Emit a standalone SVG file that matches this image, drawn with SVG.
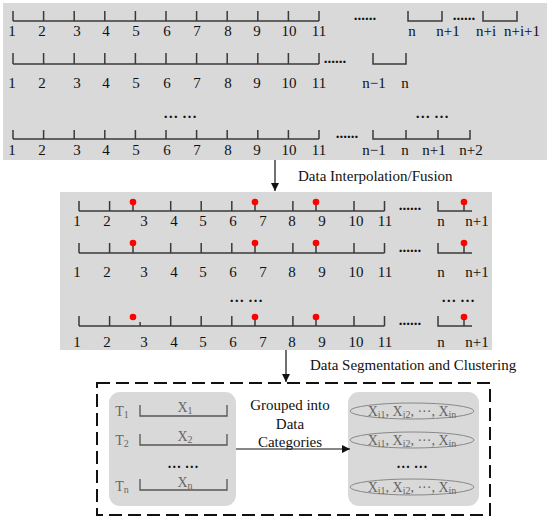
<svg xmlns="http://www.w3.org/2000/svg" width="550" height="518" viewBox="0 0 550 518">
<defs>
<style>
.panel{fill:#d9d9d9}
.ax{fill:none;stroke:#3a3a3a;stroke-width:1.5}
.t{font-family:"Liberation Serif",serif;font-size:15px;fill:#111;text-anchor:middle}
.d{font-weight:bold}
.g{font-family:"Liberation Serif",serif;font-size:14px;fill:#666;text-anchor:middle}
.lab{font-family:"Liberation Serif",serif;font-size:15px;fill:#111}
.dot{fill:#ff0000}
.stem{stroke:#3a3a3a;stroke-width:1.5}
.conn{stroke:#111;stroke-width:1.2;fill:none}
.ell{fill:none;stroke:#888;stroke-width:1}
</style>
<marker id="ah" viewBox="0 0 10 10" refX="10" refY="5" markerWidth="8" markerHeight="8" markerUnits="userSpaceOnUse" orient="auto">
<path d="M0,0 L10,5 L0,10 z" fill="#111"/>
</marker>
</defs>

<g id="raw-data">
<rect class="panel" x="3" y="3" width="544" height="157"/>
<path class="ax" d="M13,21 H319 M13,11 V21 M43.6,11 V21 M74.2,11 V21 M104.8,11 V21 M135.4,11 V21 M166,11 V21 M196.6,11 V21 M227.2,11 V21 M257.8,11 V21 M288.4,11 V21 M319,11 V21 M408,11 V21 H442 V11 M483,11 V21 H517 V11"/>
<g class="t">
<text x="12" y="36">1</text><text x="42" y="36">2</text><text x="77" y="36">3</text><text x="106" y="36">4</text><text x="136" y="36">5</text><text x="167" y="36">6</text><text x="197" y="36">7</text><text x="228" y="36">8</text><text x="257" y="36">9</text><text x="289" y="36">10</text><text x="319" y="36">11</text>
<text class="d" x="365" y="20">......</text>
<text x="412" y="36">n</text><text x="448" y="36">n+1</text>
<text class="d" x="464" y="20">......</text>
<text x="486" y="36">n+i</text><text x="522" y="36">n+i+1</text>
</g>
<path class="ax" d="M13,64 H319 M13,53 V64 M43.6,53 V64 M74.2,53 V64 M104.8,53 V64 M135.4,53 V64 M166,53 V64 M196.6,53 V64 M227.2,53 V64 M257.8,53 V64 M288.4,53 V64 M319,53 V64 M373,53 V64 H406 V53"/>
<g class="t">
<text x="12" y="88">1</text><text x="42" y="88">2</text><text x="77" y="88">3</text><text x="106" y="88">4</text><text x="136" y="88">5</text><text x="167" y="88">6</text><text x="197" y="88">7</text><text x="228" y="88">8</text><text x="257" y="88">9</text><text x="289" y="88">10</text><text x="319" y="88">11</text>
<text class="d" x="335" y="63">......</text>
<text x="374" y="88">n−1</text><text x="405" y="88">n</text>
<text class="d" x="180" y="118">… …</text>
<text class="d" x="432" y="118">… …</text>
</g>
<path class="ax" d="M13,139 H319 M13,130 V139 M43.6,130 V139 M74.2,130 V139 M104.8,130 V139 M135.4,130 V139 M166,130 V139 M196.6,130 V139 M227.2,130 V139 M257.8,130 V139 M288.4,130 V139 M319,130 V139 M373,130 V139 H470 V130 M406,130 V139 M438,130 V139"/>
<g class="t">
<text x="12" y="155">1</text><text x="42" y="155">2</text><text x="77" y="155">3</text><text x="106" y="155">4</text><text x="136" y="155">5</text><text x="167" y="155">6</text><text x="197" y="155">7</text><text x="228" y="155">8</text><text x="257" y="155">9</text><text x="289" y="155">10</text><text x="319" y="155">11</text>
<text class="d" x="347" y="138">......</text>
<text x="374" y="155">n−1</text><text x="405" y="155">n</text><text x="434" y="155">n+1</text><text x="471" y="155">n+2</text>
</g>
</g>

<g id="fused-data">
<rect class="panel" x="60" y="192" width="432" height="158"/>
<path class="ax" d="M79,211 H384.5 M79,201 V211 M109.6,201 V211 M170.7,201 V211 M201.2,201 V211 M231.8,201 V211 M292.9,201 V211 M354,201 V211 M384.5,201 V211 M438,201 V211 H472"/>
<path class="stem" d="M133,202 V211 M255,202 V211 M316,202 V211 M464,202 V211"/>
<g class="dot"><circle cx="133" cy="202" r="3.3"/><circle cx="255" cy="202" r="3.3"/><circle cx="316" cy="202" r="3.3"/><circle cx="464" cy="202" r="3.3"/></g>
<g class="t">
<text x="77" y="226">1</text><text x="107" y="226">2</text><text x="144" y="226">3</text><text x="174" y="226">4</text><text x="203" y="226">5</text><text x="233" y="226">6</text><text x="263" y="226">7</text><text x="292" y="226">8</text><text x="322" y="226">9</text><text x="356" y="226">10</text><text x="385" y="226">11</text>
<text class="d" x="410" y="210">......</text>
<text x="441" y="226">n</text><text x="477" y="226">n+1</text>
</g>
<path class="ax" d="M79,253 H384.5 M79,243 V253 M109.6,243 V253 M170.7,243 V253 M201.2,243 V253 M231.8,243 V253 M292.9,243 V253 M354,243 V253 M384.5,243 V253 M438,243 V253 H472"/>
<path class="stem" d="M133,244 V253 M255,244 V253 M316,244 V253 M464,244 V253"/>
<g class="dot"><circle cx="133" cy="243" r="3.3"/><circle cx="255" cy="243" r="3.3"/><circle cx="316" cy="243" r="3.3"/><circle cx="464" cy="243" r="3.3"/></g>
<g class="t">
<text x="77" y="277">1</text><text x="107" y="277">2</text><text x="144" y="277">3</text><text x="174" y="277">4</text><text x="203" y="277">5</text><text x="233" y="277">6</text><text x="263" y="277">7</text><text x="292" y="277">8</text><text x="322" y="277">9</text><text x="356" y="277">10</text><text x="385" y="277">11</text>
<text class="d" x="410" y="252">......</text>
<text x="441" y="277">n</text><text x="477" y="277">n+1</text>
<text class="d" x="246" y="302">… …</text>
<text class="d" x="458" y="302">… …</text>
</g>
<path class="ax" d="M79,326 H384.5 M79,316 V326 M109.6,316 V326 M140.1,322 V326 M170.7,316 V326 M201.2,316 V326 M231.8,316 V326 M292.9,316 V326 M354,316 V326 M384.5,316 V326 M438,316 V326 H472"/>
<path class="stem" d="M255,317 V326 M316,317 V326 M464,317 V326"/>
<g class="dot"><circle cx="133" cy="317" r="3.3"/><circle cx="255" cy="317" r="3.3"/><circle cx="316" cy="317" r="3.3"/><circle cx="464" cy="317" r="3.3"/></g>
<g class="t">
<text x="77" y="347">1</text><text x="107" y="347">2</text><text x="144" y="347">3</text><text x="174" y="347">4</text><text x="203" y="347">5</text><text x="233" y="347">6</text><text x="263" y="347">7</text><text x="292" y="347">8</text><text x="322" y="347">9</text><text x="356" y="347">10</text><text x="385" y="347">11</text>
<text class="d" x="410" y="325">......</text>
<text x="441" y="347">n</text><text x="477" y="347">n+1</text>
</g>
</g>

<g id="clustering">
<rect x="97" y="383" width="393" height="132" fill="none" stroke="#111" stroke-width="2" stroke-dasharray="13 6"/>
</g>

<g id="segments">
<rect class="panel" x="109" y="392" width="127" height="114" rx="11"/>
<path fill="none" stroke="#555" stroke-width="1.3" d="M140,405 V416 H227 V405 M140,434 V445 H227 V434 M140,479 V490 H227 V479"/>
<g class="g">
<text x="122" y="416">T<tspan font-size="10" dy="2">1</tspan></text>
<text x="185" y="412">X<tspan font-size="10" dy="2">1</tspan></text>
<text x="122" y="445">T<tspan font-size="10" dy="2">2</tspan></text>
<text x="185" y="441">X<tspan font-size="10" dy="2">2</tspan></text>
<text class="d" x="183" y="468" fill="#111">… …</text>
<text x="122" y="491">T<tspan font-size="10" dy="2">n</tspan></text>
<text x="185" y="487">X<tspan font-size="10" dy="2">n</tspan></text>
</g>
</g>

<g id="categories">
<rect class="panel" x="348" y="392" width="131" height="114" rx="11"/>
<ellipse class="ell" cx="412" cy="411" rx="62" ry="8"/>
<ellipse class="ell" cx="412" cy="440" rx="62" ry="8"/>
<ellipse class="ell" cx="412" cy="487" rx="62" ry="8"/>
<g class="g">
<text x="412" y="416">X<tspan font-size="10" dy="2">i1</tspan><tspan dy="-2">, X</tspan><tspan font-size="10" dy="2">i2</tspan><tspan dy="-2">, ···, X</tspan><tspan font-size="10" dy="2">in</tspan></text>
<text x="412" y="445">X<tspan font-size="10" dy="2">i1</tspan><tspan dy="-2">, X</tspan><tspan font-size="10" dy="2">i2</tspan><tspan dy="-2">, ···, X</tspan><tspan font-size="10" dy="2">in</tspan></text>
<text class="d" x="412" y="468" fill="#111">… …</text>
<text x="412" y="492">X<tspan font-size="10" dy="2">i1</tspan><tspan dy="-2">, X</tspan><tspan font-size="10" dy="2">i2</tspan><tspan dy="-2">, ···, X</tspan><tspan font-size="10" dy="2">in</tspan></text>
</g>
</g>

<g id="connectors">
<line class="conn" x1="275" y1="160" x2="275" y2="191" marker-end="url(#ah)"/>
<text class="lab" x="298" y="181">Data Interpolation/Fusion</text>
<line class="conn" x1="286" y1="350" x2="286" y2="382" marker-end="url(#ah)"/>
<text class="lab" x="310" y="370">Data Segmentation and Clustering</text>
<line class="conn" x1="236" y1="449" x2="350" y2="449" marker-end="url(#ah)"/>
<g class="lab" font-size="16" text-anchor="middle">
<text x="290" y="410">Grouped into</text>
<text x="290" y="429">Data</text>
<text x="290" y="447">Categories</text>
</g>
</g>
</svg>
